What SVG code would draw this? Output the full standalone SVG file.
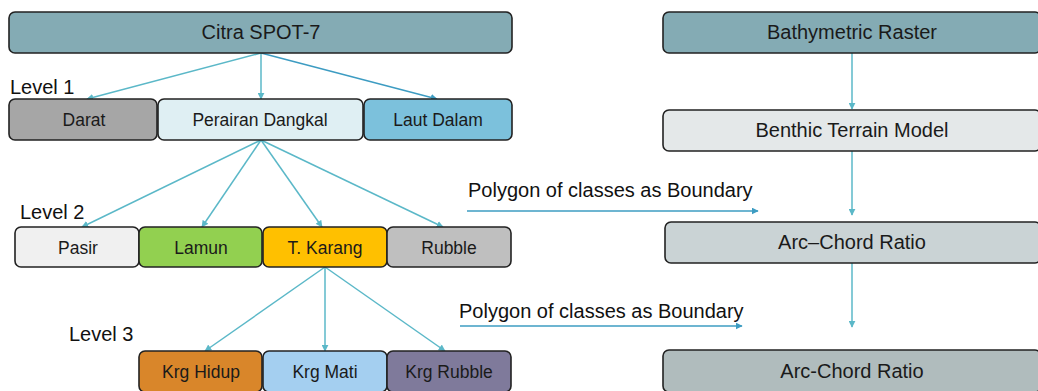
<svg xmlns="http://www.w3.org/2000/svg" width="1038" height="391" viewBox="0 0 1038 391">
<style>
.box{stroke:#222;stroke-width:1.6}
.t{font-family:"Liberation Sans",Arial,sans-serif;font-size:17.5px;fill:#1a1a1a;text-anchor:middle}
.big{font-size:20px}
.lbl{font-family:"Liberation Sans",Arial,sans-serif;font-size:20px;fill:#111}
.c{stroke:#5bb8c8;stroke-width:1.5;fill:none;marker-end:url(#ah)}
.c2{stroke:#3d9cc2;stroke-width:1.5;fill:none;marker-end:url(#ah2)}
</style>
<defs>
<marker id="ah" viewBox="0 0 10 10" refX="9" refY="5" markerWidth="7" markerHeight="7" markerUnits="userSpaceOnUse" orient="auto"><path d="M0,0L10,5L0,10z" fill="#5bb8c8"/></marker>
<marker id="ah2" viewBox="0 0 10 10" refX="9" refY="5" markerWidth="7" markerHeight="7" markerUnits="userSpaceOnUse" orient="auto"><path d="M0,0L10,5L0,10z" fill="#3d9cc2"/></marker>
</defs>
<rect width="1038" height="391" fill="#fff"/>
<g id="connectors">
<line class="c" x1="261" y1="53" x2="87" y2="99"/>
<line class="c" x1="261" y1="53" x2="261" y2="99"/>
<line class="c2" x1="261" y1="53" x2="437" y2="99"/>
<line class="c" x1="261" y1="140" x2="82" y2="227"/>
<line class="c" x1="261" y1="140" x2="202" y2="227"/>
<line class="c" x1="261" y1="140" x2="322" y2="227"/>
<line class="c" x1="261" y1="140" x2="443" y2="227"/>
<line class="c" x1="325" y1="267" x2="205" y2="351"/>
<line class="c" x1="325" y1="267" x2="325" y2="351"/>
<line class="c" x1="325" y1="267" x2="445" y2="351"/>
<line class="c" x1="852" y1="53" x2="852" y2="109"/>
<line class="c" x1="852" y1="151" x2="852" y2="215"/>
<line class="c" x1="852" y1="263" x2="852" y2="327"/>
<line class="c2" x1="467" y1="211" x2="758" y2="211"/>
<line class="c2" x1="460" y1="326" x2="742" y2="326"/>
</g>
<g id="labels">
<text class="lbl" x="10" y="94">Level 1</text>
<text class="lbl" x="20" y="219">Level 2</text>
<text class="lbl" x="69" y="341">Level 3</text>
<text class="lbl" x="468" y="197">Polygon of classes as Boundary</text>
<text class="lbl" x="459" y="318">Polygon of classes as Boundary</text>
</g>
<g id="citra"><rect class="box" x="9" y="12" width="503" height="41" rx="6" fill="#84abb4"/><text class="t big" x="261" y="39">Citra SPOT-7</text></g>
<g id="darat"><rect class="box" x="9" y="99" width="148" height="41" rx="6" fill="#a6a6a6"/><text class="t" x="84" y="126">Darat</text></g>
<g id="perairan"><rect class="box" x="158" y="99" width="205" height="41" rx="6" fill="#dfeff3"/><text class="t" x="260" y="126">Perairan Dangkal</text></g>
<g id="laut"><rect class="box" x="364" y="99" width="148" height="41" rx="6" fill="#7cc1dc"/><text class="t" x="438" y="126">Laut Dalam</text></g>
<g id="pasir"><rect class="box" x="15" y="227" width="124" height="40" rx="6" fill="#f0f0f0"/><text class="t" x="78" y="254">Pasir</text></g>
<g id="lamun"><rect class="box" x="139" y="227" width="123" height="40" rx="6" fill="#92d050"/><text class="t" x="201" y="254">Lamun</text></g>
<g id="karang"><rect class="box" x="263" y="227" width="124" height="40" rx="6" fill="#ffc000"/><text class="t" x="325" y="254">T. Karang</text></g>
<g id="rubble"><rect class="box" x="387" y="227" width="124" height="40" rx="6" fill="#bfbfbf"/><text class="t" x="449" y="254">Rubble</text></g>
<g id="hidup"><rect class="box" x="139" y="351" width="123" height="41" rx="6" fill="#d9862a"/><text class="t" x="201" y="378">Krg Hidup</text></g>
<g id="mati"><rect class="box" x="263" y="351" width="124" height="41" rx="6" fill="#a4cff0"/><text class="t" x="325" y="378">Krg Mati</text></g>
<g id="krgrubble"><rect class="box" x="387" y="351" width="124" height="41" rx="6" fill="#7f7a9b"/><text class="t" x="449" y="378">Krg Rubble</text></g>
<g id="bathy"><rect class="box" x="663" y="12" width="378" height="41" rx="6" fill="#84abb4"/><text class="t big" x="852" y="39">Bathymetric Raster</text></g>
<g id="btm"><rect class="box" x="663" y="110" width="378" height="41" rx="6" fill="#e4e8e9"/><text class="t big" x="852" y="137">Benthic Terrain Model</text></g>
<g id="acr1"><rect class="box" x="665" y="222" width="376" height="41" rx="6" fill="#cad3d5"/><text class="t big" x="852" y="249">Arc–Chord Ratio</text></g>
<g id="acr2"><rect class="box" x="663" y="350" width="378" height="42" rx="6" fill="#b0bcbd"/><text class="t big" x="852" y="378">Arc-Chord Ratio</text></g>
</svg>
